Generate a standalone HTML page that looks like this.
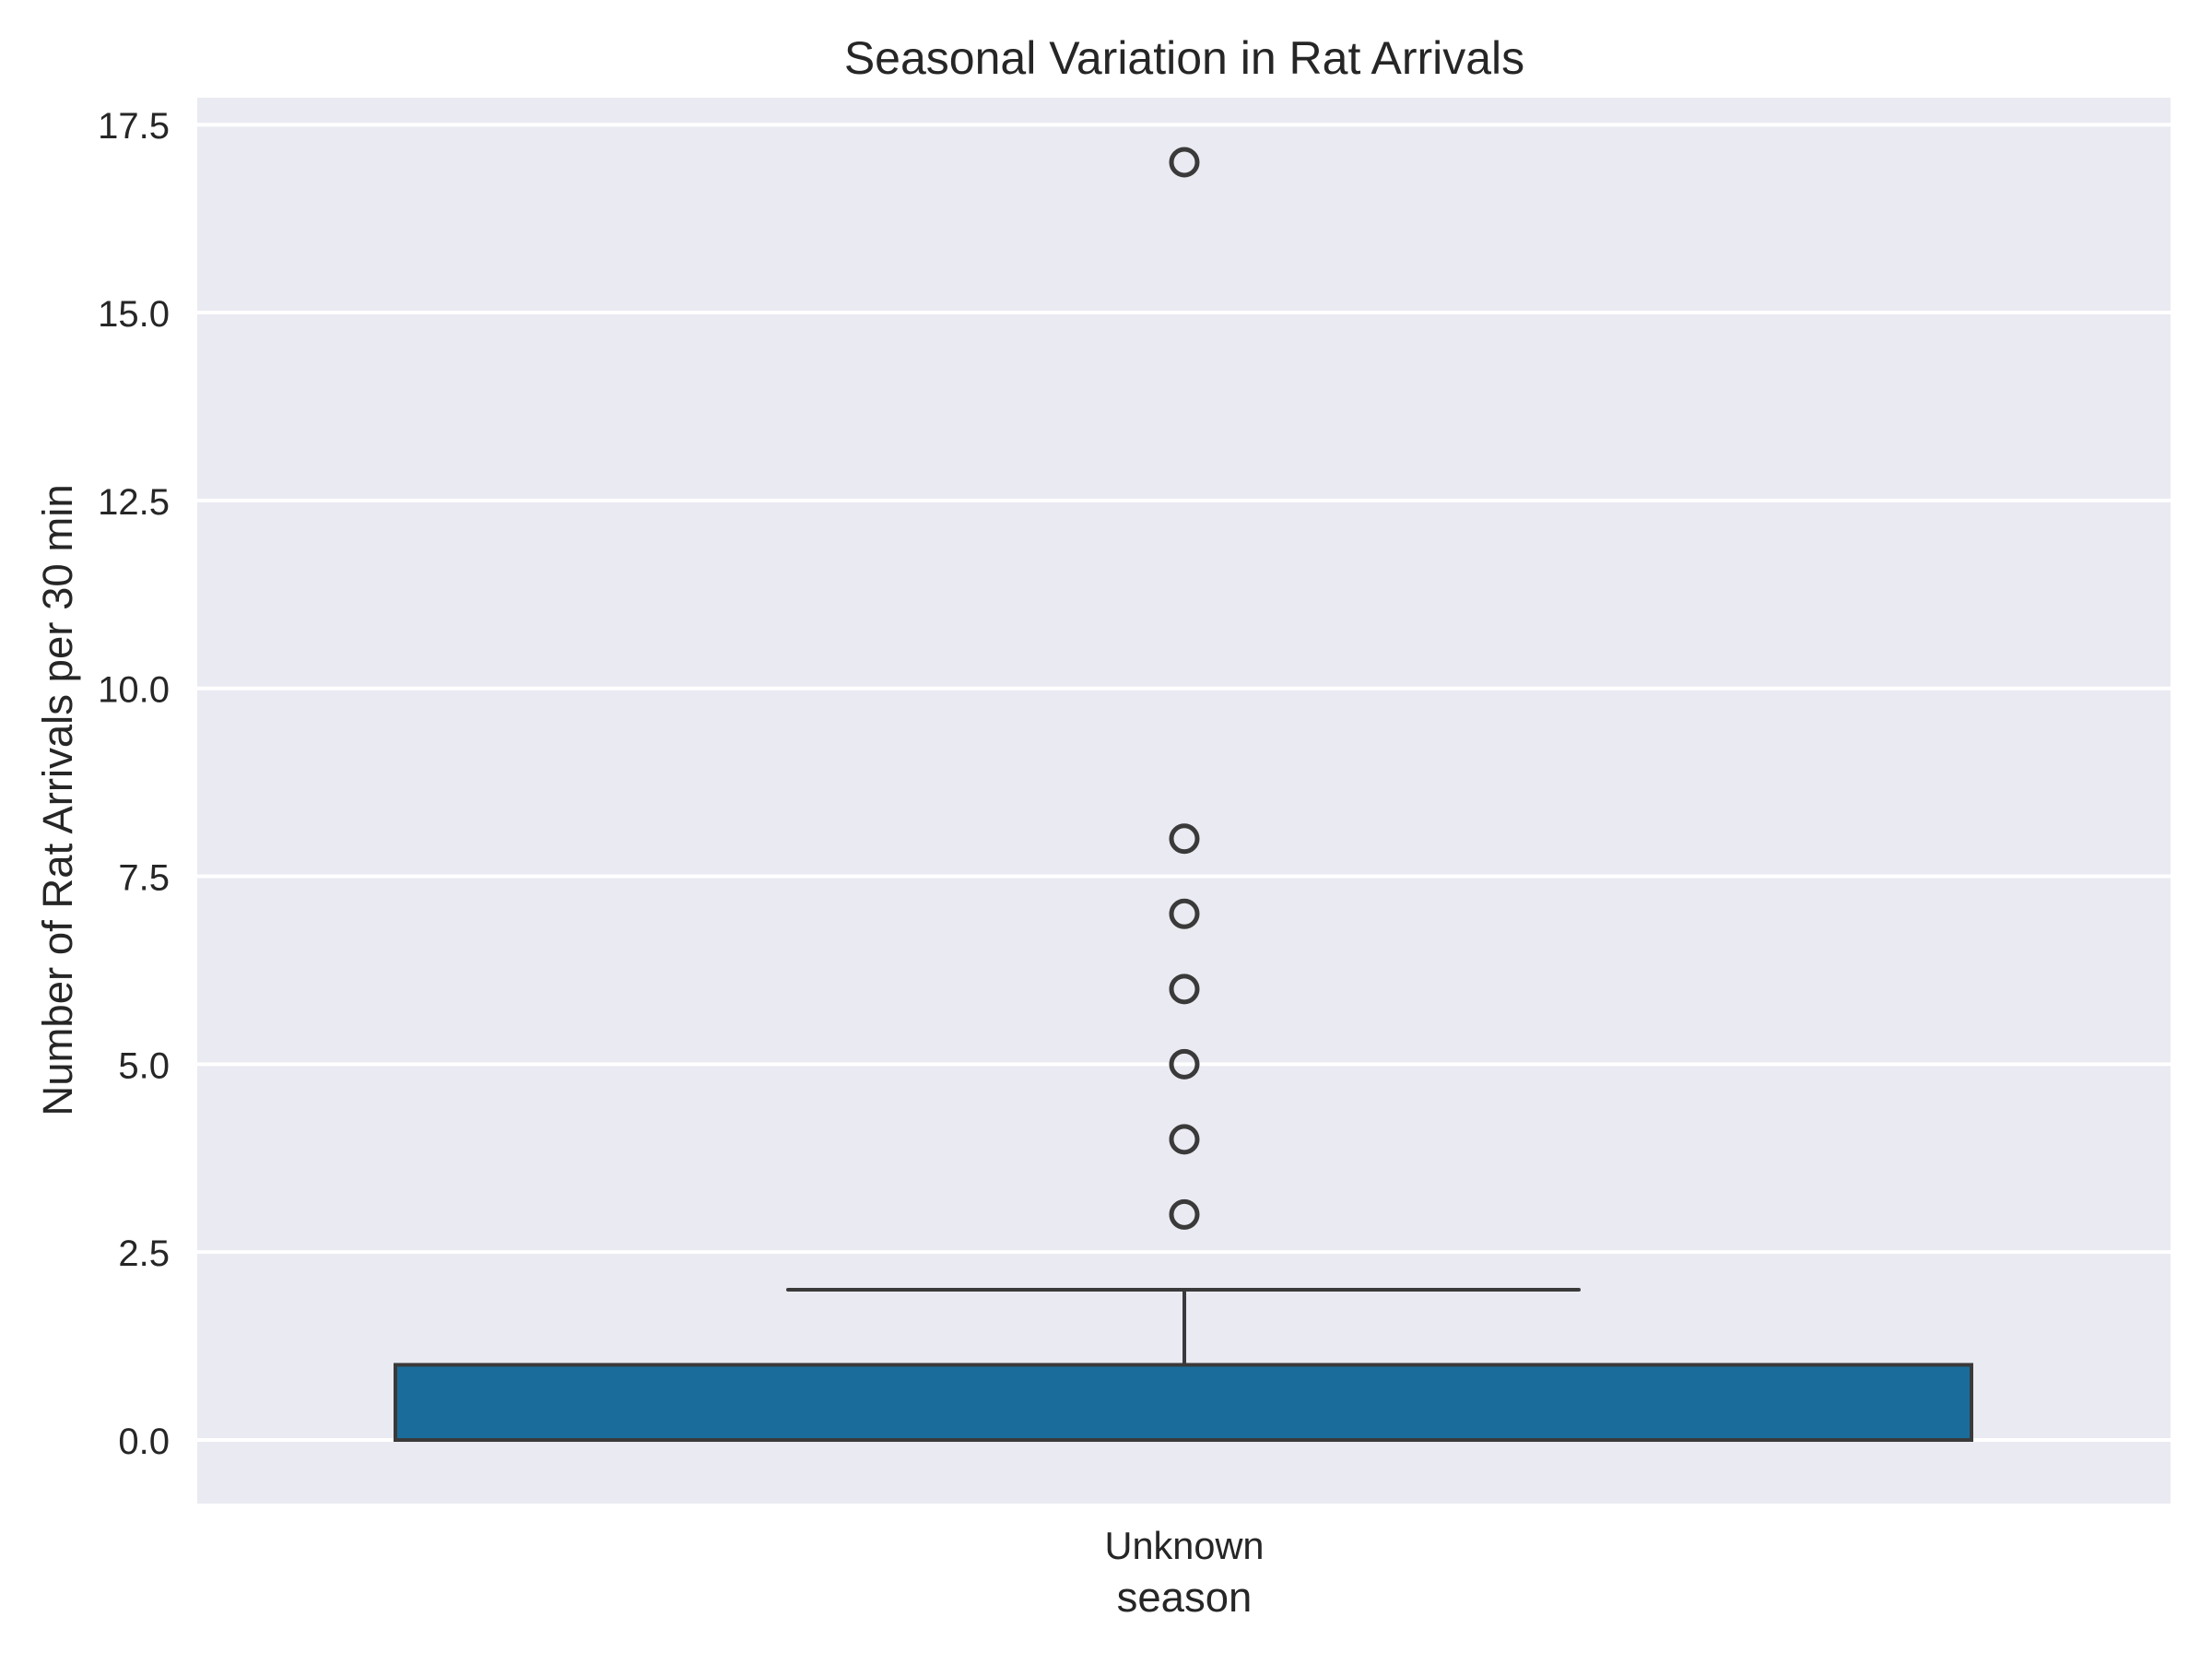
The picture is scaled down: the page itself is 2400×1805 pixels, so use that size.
<!DOCTYPE html>
<html><head><meta charset="utf-8"><style>
html,body{margin:0;padding:0;background:#fff;}
svg text{font-family:"Liberation Sans",sans-serif;fill:#262626;}
</style></head><body>
<svg width="2400" height="1800" viewBox="0 0 2400 1800" xmlns="http://www.w3.org/2000/svg">
<rect x="214" y="106" width="2141" height="1525" fill="#eaeaf2"/>
<g id="grid"></g>
<g id="yticks"></g>
<g id="box"></g>
<text x="1285" y="80" font-size="50" text-anchor="middle">Seasonal Variation in Rat Arrivals</text>
<text x="1285" y="1691" font-size="41.5" text-anchor="middle">Unknown</text>
<text x="1285" y="1748" font-size="45.5" text-anchor="middle">season</text>
<text transform="translate(78,868) rotate(-90)" font-size="45.5" text-anchor="middle">Number of Rat Arrivals per 30 min</text>
</svg>
<script>
const tickValues=[0,2.5,5,7.5,10,12.5,15,17.5];
const tickLabels=["0.0","2.5","5.0","7.5","10.0","12.5","15.0","17.5"];
const q1=[0];
const q3=[1];
const whiskerLow=[0];
const whiskerHigh=[2];
const outliers=[3,4,5,6,7,8,17];
const NS="http://www.w3.org/2000/svg";
const y=v=>1562-v*81.53;
const cx=1285;
function mk(t,a,p){const e=document.createElementNS(NS,t);for(const k in a)e.setAttribute(k,a[k]);p.appendChild(e);return e;}
const g=document.getElementById('grid'),yt=document.getElementById('yticks'),b=document.getElementById('box');
tickValues.forEach((v,i)=>{
 const l=mk('line',{x1:214,x2:2355,y1:y(v),y2:y(v),stroke:'#fff','stroke-width':4},g);
 
 
 const t=mk('text',{x:184,y:y(v)+15,'font-size':40,'text-anchor':'end'},yt);
 t.textContent=tickLabels[i];
 
 
});
const wl=mk('line',{x1:cx,x2:cx,y1:y(q3[0]),y2:y(whiskerHigh[0]),stroke:'#3a3a3a','stroke-width':4},b);


const cap=mk('line',{x1:855,x2:1713,y1:y(whiskerHigh[0]),y2:y(whiskerHigh[0]),stroke:'#3a3a3a','stroke-width':4,'stroke-linecap':'round'},b);


const r=mk('rect',{x:429,y:y(q3[0]),width:1710,height:y(q1[0])-y(q3[0]),fill:'#1a6d9b',stroke:'#3a3a3a','stroke-width':4},b);


outliers.forEach(v=>{
 const c=mk('circle',{cx:cx,cy:y(v),r:14,fill:'none',stroke:'#3a3a3a','stroke-width':5},b);
 
 
});
</script>
</body></html>
